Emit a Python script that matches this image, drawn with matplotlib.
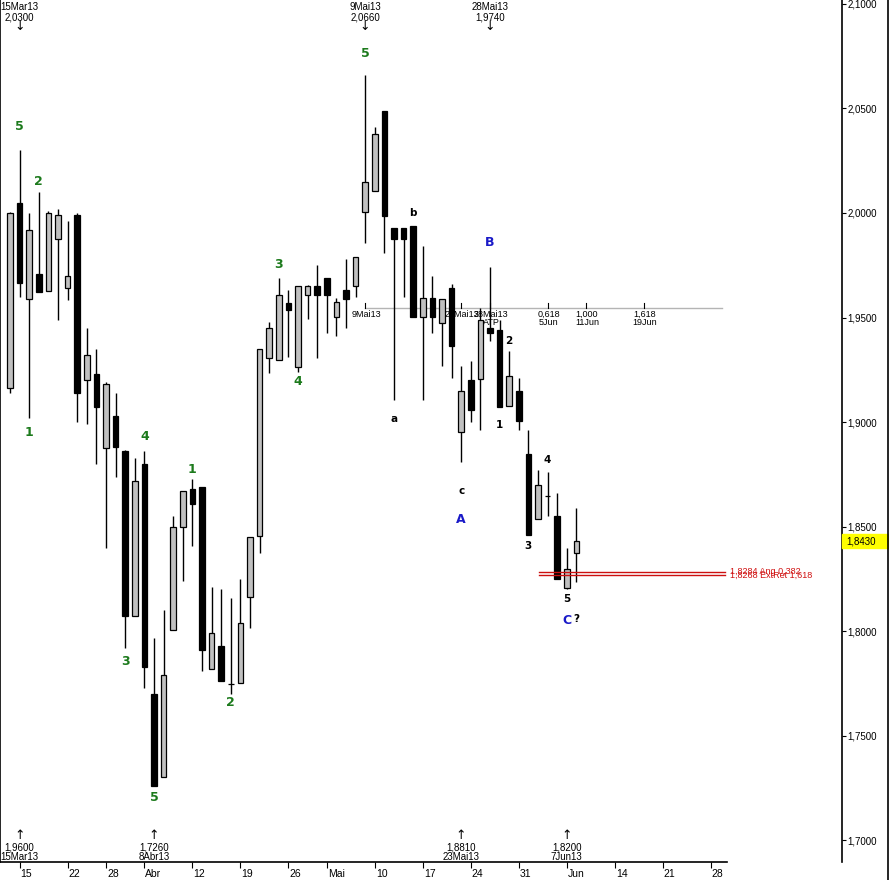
import matplotlib
matplotlib.use("Agg")
import matplotlib.pyplot as plt
import matplotlib.transforms as mtransforms
from matplotlib.patches import Rectangle
from matplotlib.lines import Line2D
import numpy as np

plt.rcParams['font.family'] = ['Liberation Sans', 'DejaVu Sans']

# daily candles, bar index 0 = 14Mar13
opens = [1.9163, 2.0048, 1.9589, 1.9708, 1.9627, 1.9876, 1.9641, 1.9990, 1.9201, 1.9230,
         1.8876, 1.9029, 1.8861, 1.8072, 1.8799, 1.7699, 1.7301, 1.8005, 1.8498, 1.8679,
         1.8689, 1.7818, 1.7928, 1.7746, 1.7751, 1.8163, 1.8455, 1.9306, 1.9297, 1.9569,
         1.9263, 1.9608, 1.9651, 1.9689, 1.9502, 1.9632, 1.9651, 2.0005, 2.0105, 2.0488,
         1.9928, 1.9928, 1.9938, 1.9502, 1.9593, 1.9474, 1.9641, 1.8952, 1.9201, 1.9206,
         1.9450, 1.9440, 1.9077, 1.9148, 1.8847, 1.8536, 1.8646, 1.8550, 1.8206, 1.8373]
highs = [2.0005, 2.0300, 2.0000, 2.0100, 2.0010, 2.0019, 1.9962, 2.0000, 1.9450, 1.9349,
         1.9191, 1.9139, 1.8865, 1.8828, 1.8861, 1.7967, 1.8100, 1.8550, 1.8670, 1.8727,
         1.8689, 1.8211, 1.8201, 1.8158, 1.8249, 1.8450, 1.9349, 1.9478, 1.9689, 1.9632,
         1.9651, 1.9655, 1.9751, 1.9689, 1.9593, 1.9780, 1.9789, 2.0660, 2.0411, 2.0488,
         1.9928, 1.9928, 1.9938, 1.9842, 1.9699, 1.9589, 1.9660, 1.9268, 1.9292, 1.9545,
         1.9740, 1.9488, 1.9340, 1.9211, 1.8962, 1.8770, 1.8761, 1.8660, 1.8397, 1.8589]
lows = [1.9139, 1.9600, 1.9019, 1.9622, 1.9627, 1.9488, 1.9584, 1.9000, 1.8990, 1.8799,
        1.8397, 1.8737, 1.7919, 1.8072, 1.7727, 1.7260, 1.7301, 1.8005, 1.8239, 1.8407,
        1.7809, 1.7818, 1.7761, 1.7699, 1.7751, 1.8014, 1.8373, 1.9234, 1.9297, 1.9311,
        1.9239, 1.9493, 1.9306, 1.9426, 1.9411, 1.9450, 1.9598, 1.9856, 2.0105, 1.9809,
        1.9105, 1.9598, 1.9502, 1.9105, 1.9426, 1.9268, 1.9211, 1.8810, 1.9000, 1.8962,
        1.9388, 1.9072, 1.9077, 1.8962, 1.8459, 1.8536, 1.8550, 1.8249, 1.8200, 1.8234]
closes = [2.0000, 1.9665, 1.9919, 1.9622, 2.0000, 1.9990, 1.9699, 1.9139, 1.9321, 1.9072,
          1.9182, 1.8880, 1.8072, 1.8718, 1.7828, 1.7260, 1.7789, 1.8498, 1.8670, 1.8608,
          1.7909, 1.7990, 1.7761, 1.7746, 1.8038, 1.8450, 1.9349, 1.9450, 1.9608, 1.9536,
          1.9651, 1.9651, 1.9608, 1.9608, 1.9574, 1.9589, 1.9789, 2.0148, 2.0378, 1.9986,
          1.9876, 1.9876, 1.9502, 1.9593, 1.9502, 1.9589, 1.9364, 1.9148, 1.9057, 1.9488,
          1.9426, 1.9072, 1.9220, 1.9005, 1.8459, 1.8699, 1.8646, 1.8249, 1.8297, 1.8430]

# x axis (weekly ticks)
tick_pos = [1, 6, 10, 14, 19, 24, 29, 33, 38, 43, 48, 53, 58, 63, 68, 73]
tick_lbl = ["15", "22", "28", "Abr", "12", "19", "26", "Mai", "10", "17", "24", "31",
            "Jun", "14", "21", "28"]

# elliott wave labels: (bar, text, above/below, offset px)
green_lbls = [(1, "5", "hi", 24), (3, "2", "hi", 11), (2, "1", "lo", 14), (14, "4", "hi", 15),
              (12, "3", "lo", 14), (19, "1", "hi", 10), (15, "5", "lo", 12), (23, "2", "lo", 9),
              (28, "3", "hi", 13), (30, "4", "lo", 9), (37, "5", "hi", 22)]
black_lbls = [(40, "a", "lo", 19), (42, "b", "hi", 13), (47, "c", "lo", 29), (51, "1", "lo", 18),
              (52, "2", "hi", 10), (54, "3", "lo", 11), (56, "4", "hi", 12), (58, "5", "lo", 10),
              (59, "?", "lo", 37)]
blue_lbls = [(47, "A", "lo", 58), (50, "B", "hi", 25), (58, "C", "lo", 31)]

# extremes marked at the top / bottom
top_marks = [(1, "15Mar13"), (37, "9Mai13"), (50, "28Mai13")]
bot_marks = [(1, "15Mar13"), (15, "8Abr13"), (47, "23Mai13"), (58, "7Jun13")]

# time projection line
fib_level = 1.9545
fib_pos = [37, 47, 50, 56, 60, 66]
fib_lbl = ["9Mai13", "23Mai13", "28Mai13\nATP", "0,618\n5Jun", "1,000\n11Jun", "1,618\n19Jun"]

# price targets
red_levels = [1.8284, 1.8268]
red_lbl = ["1,8284 Ang 0,382", "1,8268 ExtRet 1,618"]

fig = plt.figure(figsize=(8.89, 8.8), dpi=100)
ax = fig.add_axes([0, 18 / 880, 842 / 889, 862 / 880])

x = np.arange(len(opens))
o = np.array(opens); c = np.array(closes)
up = c >= o
ax.vlines(x, lows, highs, color="black", lw=1, zorder=2)
ax.bar(x[up], (c - o)[up], bottom=o[up], width=0.57, color="#c0c0c0",
       edgecolor="black", linewidth=0.9, zorder=3)
ax.bar(x[~up], (o - c)[~up], bottom=c[~up], width=0.57, color="black",
       edgecolor="black", linewidth=0.9, zorder=3)

ax.set_xlim(-1.04, 86.67)
ax.set_ylim(1.6895, 2.1019)

ax.yaxis.tick_right()
yt = np.arange(1.70, 2.101, 0.05)
ax.set_yticks(yt)
ax.set_yticklabels([f"{v:.4f}".replace(".", ",") for v in yt])
ax.tick_params(axis="y", direction="out", length=3, pad=1, labelsize=7)
ax.set_xticks(tick_pos)
ax.set_xticklabels(tick_lbl)
ax.tick_params(axis="x", direction="out", length=4, pad=1, labelsize=7.5)
off = mtransforms.ScaledTranslation(1 / 100, 0, fig.dpi_scale_trans)
for lab in ax.get_xticklabels():
    lab.set_horizontalalignment("left")
    lab.set_transform(lab.get_transform() + off)
ax.spines["top"].set_visible(False)
for s in ["left", "right", "bottom"]:
    ax.spines[s].set_linewidth(1.2)
ax.spines["bottom"].set_bounds(-1.04, 74.7)

# wave labels
def put(lbls, color, size, weight):
    for i, t, side, d in lbls:
        if side == "hi":
            ax.annotate(t, (i, highs[i]), xytext=(0, d), textcoords="offset pixels",
                        ha="center", va="center", color=color, fontsize=size,
                        fontweight=weight, family="DejaVu Sans")
        else:
            ax.annotate(t, (i, lows[i]), xytext=(0, -d), textcoords="offset pixels",
                        ha="center", va="center", color=color, fontsize=size,
                        fontweight=weight, family="DejaVu Sans")

put(green_lbls, "#1c7a1c", 9, "bold")
put(black_lbls, "black", 7.5, "bold")
put(blue_lbls, "#1a1ac8", 9, "bold")

# top / bottom extreme marks
tr = mtransforms.blended_transform_factory(ax.transData, ax.transAxes)
for i, d in top_marks:
    v = f"{highs[i]:.4f}".replace(".", ",")
    ax.text(i, 1 - 7 / 862, d, transform=tr, ha="center", va="center", fontsize=7)
    ax.text(i, 1 - 17 / 862, v, transform=tr, ha="center", va="center", fontsize=7)
    ax.text(i, 1 - 27 / 862, "↓", transform=tr, ha="center", va="center", fontsize=9,
            family="DejaVu Sans")
for i, d in bot_marks:
    v = f"{lows[i]:.4f}".replace(".", ",")
    ax.text(i, 15 / 862, v, transform=tr, ha="center", va="center", fontsize=7)
    ax.text(i, 5 / 862, d, transform=tr, ha="center", va="center", fontsize=7)
    ax.text(i, 27 / 862, "↑", transform=tr, ha="center", va="center", fontsize=9,
            family="DejaVu Sans")

# time projection line with labels
ax.plot([fib_pos[0], 74.17], [fib_level, fib_level], color="#b4b4b4", lw=1, zorder=1)
for p, t in zip(fib_pos, fib_lbl):
    ax.add_line(Line2D([p, p], [fib_level, fib_level + 5 / 2090], color="black", lw=0.8))
    ax.annotate(t, (p, fib_level), xytext=(1, -2), textcoords="offset pixels",
                ha="center", va="top", fontsize=6.5, linespacing=0.85)

# price target lines
for lv, t in zip(red_levels, red_lbl):
    ax.plot([55.1, 74.5], [lv, lv], color="#cc1010", lw=1, zorder=4)
    ax.text(75.0, lv, t, ha="left", va="center", color="#d01010", fontsize=6.5)

# last price box on the axis
last = closes[-1]
ta = mtransforms.blended_transform_factory(ax.transAxes, ax.transData)
ax.add_patch(Rectangle((1.0, last - 7 / 2090), 46 / 842, 14 / 2090, transform=ta,
                       color="#ffff00", clip_on=False, zorder=5))
ax.text(1.0 + 4 / 842, last, f"{last:.4f}".replace(".", ","), transform=ta,
        ha="left", va="center", fontsize=7, zorder=6)

fig.add_artist(Line2D([887.5 / 889, 887.5 / 889], [0, 1], color="black", lw=1.2))

fig.savefig("out.png", dpi=100)
